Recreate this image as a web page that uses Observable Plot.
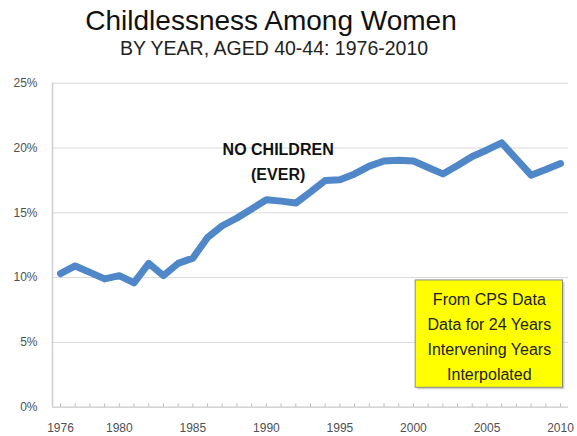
<!DOCTYPE html>
<html>
<head>
<meta charset="utf-8">
<script src="https://cdn.jsdelivr.net/npm/d3@7"></script>
<script src="https://cdn.jsdelivr.net/npm/@observablehq/plot@0.6"></script>
<style>
  html, body { margin: 0; padding: 0; background: #fff; }
  #wrap { position: relative; width: 577px; height: 436px; overflow: hidden; font-family: "Liberation Sans", Arial, sans-serif; }
  #title { position: absolute; left: 0; top: 7px; width: 542px; text-align: center; font-size: 28px; line-height: 28px; color: #111; }
  #subtitle { position: absolute; left: 0; top: 38px; width: 548px; text-align: center; font-size: 19.5px; line-height: 20px; color: #222; }
  #chart { position: absolute; left: 0; top: 70px; }
</style>
</head>
<body>
<div id="wrap">
  <div id="title">Childlessness Among Women</div>
  <div id="subtitle">BY YEAR, AGED 40-44: 1976-2010</div>
  <div id="chart"></div>
</div>
<script>
// Data
const years = [1976,1977,1978,1979,1980,1981,1982,1983,1984,1985,1986,1987,1988,1989,1990,1991,1992,1993,1994,1995,1996,1997,1998,1999,2000,2001,2002,2003,2004,2005,2006,2007,2008,2009,2010];
const noChildren = [10.3,10.9,10.4,9.9,10.15,9.6,11.1,10.15,11.1,11.5,13.1,14.0,14.6,15.3,16.0,15.9,15.75,16.6,17.5,17.55,18.0,18.6,19.0,19.05,19.0,18.5,18.0,18.65,19.35,19.85,20.4,19.15,17.9,18.35,18.8];
const xTickLabels = [1976,1980,1985,1990,1995,2000,2005,2010];
const yTickValues = [0,5,10,15,20,25];
const seriesLabel = "NO CHILDREN\n(EVER)";
const noteText = "From CPS Data\nData for 24 Years\nIntervening Years\nInterpolated";

const data = years.map((yr, i) => ({year: yr, value: noChildren[i]}));
const xDomain = [1975.456, 2010.544];
const noteBox = [{x1: 2000.15, x2: 2010.17, y1: 1.5, y2: 9.78}];
const labelPos = [{x: 1990.8, y: 19.1, text: seriesLabel}];
const notePos = [{x: 2005.16, y: 5.6, text: noteText}];

const chart = Plot.plot({
  width: 577,
  height: 366,
  marginLeft: 52,
  marginRight: 9,
  marginTop: 12.7,
  marginBottom: 29.3,
  style: {fontFamily: "'Liberation Sans', Arial, sans-serif", fontSize: "12px", color: "#505050", background: "white", overflow: "visible"},
  x: {domain: xDomain, ticks: xTickLabels, tickFormat: d => String(d), tickSize: 0, tickPadding: 16, label: null},
  y: {domain: [0, 25], ticks: yTickValues, tickFormat: d => d + "%", tickSize: 0, tickPadding: 15, label: null},
  marks: [
    Plot.ruleY(yTickValues.filter(d => d > 0), {stroke: "#d9d9d9", strokeWidth: 1}),
    Plot.ruleX([xDomain[0]], {y1: 0, y2: 25, stroke: "#cfcfcf", strokeWidth: 1.5}),
    Plot.ruleY([0], {stroke: "#c8c8c8", strokeWidth: 1.2}),
    Plot.ruleX(years, {x: d => d, y1: 0, y2: 0.25, stroke: "#bbb", strokeWidth: 1}),
    Plot.rect(noteBox, {x1: "x1", x2: "x2", y1: "y1", y2: "y2", fill: "#999", fillOpacity: 0.45, dx: 2, dy: 2}),
    Plot.rect(noteBox, {x1: "x1", x2: "x2", y1: "y1", y2: "y2", fill: "#ffff00", stroke: "#8a8a8a", strokeWidth: 1}),
    Plot.text(notePos, {x: "x", y: "y", text: "text", fontSize: 16, lineHeight: 1.5625, fill: "#222", textAnchor: "middle", lineAnchor: "middle"}),
    Plot.line(data, {x: "year", y: "value", stroke: "#4f87c9", strokeWidth: 7, strokeLinejoin: "round", strokeLinecap: "round"}),
    Plot.text(labelPos, {x: "x", y: "y", text: "text", fontSize: 16, fontWeight: "bold", lineHeight: 1.54, fill: "#111", textAnchor: "middle", lineAnchor: "middle"})
  ]
});
document.getElementById("chart").appendChild(chart);
</script>
</body>
</html>
